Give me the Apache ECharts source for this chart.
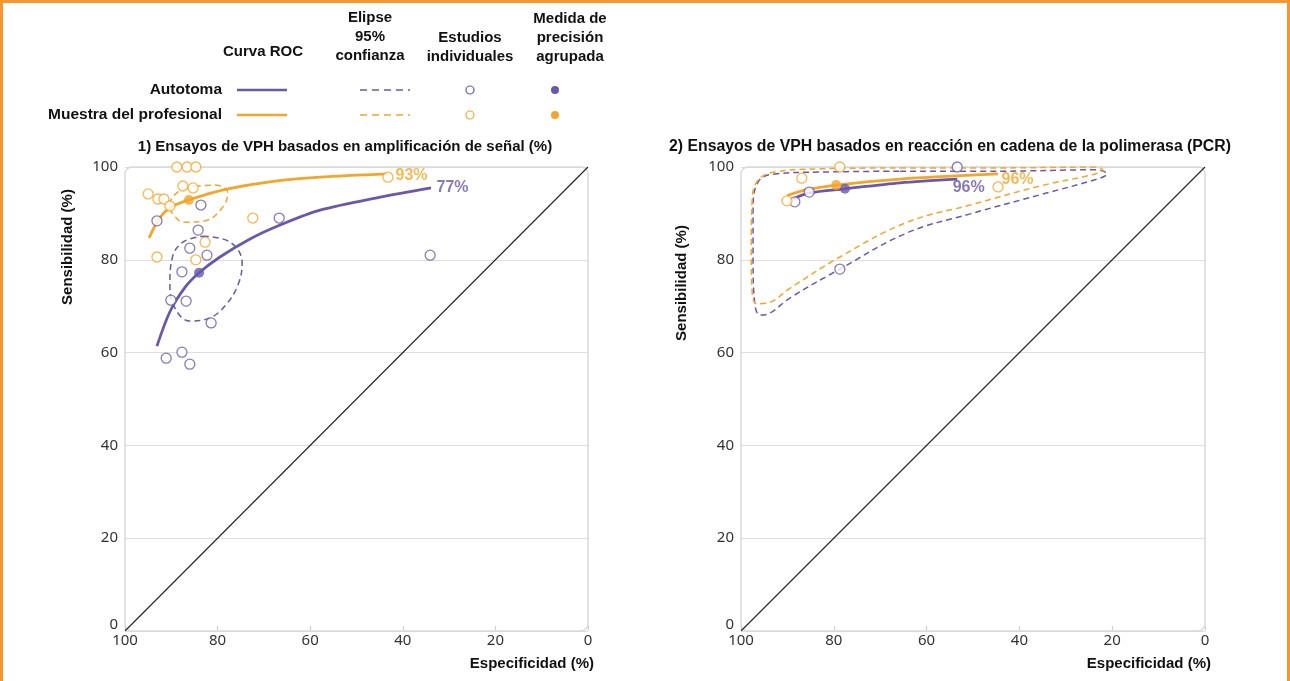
<!DOCTYPE html>
<html><head><meta charset="utf-8">
<script src="https://cdn.jsdelivr.net/npm/echarts@6/dist/echarts.min.js"></script>
<style>html,body{margin:0;padding:0;background:#fff}#c{width:1290px;height:681px}</style>
</head><body><div id="c"></div><script>
// ---------------- data ----------------
const axisMin = 0, axisMax = 100, axisStep = 20;
const legendRows = ['Autotoma', 'Muestra del profesional'];
const legendHeaders = [['Curva ROC'], ['Elipse', '95%', 'confianza'], ['Estudios', 'individuales'], ['Medida de', 'precisión', 'agrupada']];
const panelTitles = ['1) Ensayos de VPH basados en amplificación de señal (%)', '2) Ensayos de VPH basados en reacción en cadena de la polimerasa (PCR)'];
const xName = 'Especificidad (%)';
const yName = 'Sensibilidad (%)';
const diagonal = [[100, 0], [0, 100]];

// Panel 1 — amplificación de señal  [especificidad, sensibilidad]
const p1SelfStudies = [[93.1,88.4],[83.6,91.8],[84.2,86.4],[86.0,82.5],[82.3,81.0],[87.7,77.4],[90.1,71.3],[86.8,71.1],[81.4,66.4],[87.7,60.1],[91.1,58.8],[86.0,57.5],[66.7,89.0],[34.1,81.0]];
const p1ClinStudies = [[88.8,100],[86.6,100],[84.7,100],[87.5,95.9],[85.3,95.5],[95.0,94.2],[92.9,93.1],[91.6,93.1],[90.3,91.6],[72.4,89.0],[82.7,83.8],[84.7,80.0],[93.1,80.6],[43.2,97.8]];
const p1SelfPooled = [[84.0,77.2]];
const p1ClinPooled = [[86.2,92.9]];
const p1SelfRoc = [[93.1,61.4],[90.3,68.8],[87.0,74.1],[84.0,77.2],[79.5,80.6],[73.0,84.5],[66.5,87.5],[57.9,90.7],[44.9,93.5],[33.9,95.5]];
const p1ClinRoc = [[94.8,84.7],[93.1,88.1],[91.4,90.3],[89.2,91.8],[86.2,92.9],[82.7,94.0],[77.8,95.3],[68.7,96.8],[57.9,97.8],[43.2,98.5]];
const p1SelfEllipse = [[83.2,85.1],[77.3,83.8],[74.7,79.3],[75.6,74.6],[78.2,70.3],[81.6,67.5],[86.0,66.8],[89.2,69.6],[90.3,74.6],[89.8,80.4],[87.5,83.8],[83.2,85.1]];
const p1ClinEllipse = [[84.9,95.9],[80.6,96.1],[77.8,94.4],[79.0,91.2],[82.7,88.4],[87.0,88.1],[89.6,89.7],[90.3,91.8],[88.6,94.6],[84.9,95.9]];
const p1Labels = ['77%', '93%'];

// Panel 2 — PCR
const p2SelfStudies = [[88.4,92.5],[85.3,94.6],[53.4,100],[78.7,78.0]];
const p2ClinStudies = [[90.1,92.7],[86.9,97.6],[78.7,100],[44.6,95.7]];
const p2SelfPooled = [[77.6,95.3]];
const p2ClinPooled = [[79.5,96.1]];
const p2SelfRoc = [[88.8,93.1],[85.3,94.4],[77.6,95.3],[65.7,96.6],[53.4,97.4]];
const p2ClinRoc = [[90.1,93.8],[86.2,95.0],[79.5,96.1],[65.7,97.4],[44.6,98.5]];
const p2SelfEllipse = [[65.7,99.1],[44.2,99.1],[23.7,99.4],[21.1,98.5],[22.6,97.6],[35.6,94.0],[50.6,89.9],[64.2,85.8],[78.7,78.0],[89.4,71.8],[93.8,68.5],[95.9,68.1],[97.0,70.3],[97.4,80.0],[97.4,90.7],[96.3,96.8],[92.7,98.5],[83.0,98.9],[65.7,99.1]];
const p2ClinEllipse = [[65.7,99.8],[44.2,99.8],[23.7,100],[22.0,99.4],[23.7,98.5],[35.6,95.9],[50.6,91.8],[64.2,88.1],[78.7,80.6],[89.4,73.9],[94.2,70.7],[96.6,70.5],[97.6,73.1],[97.8,82.1],[97.6,92.9],[96.3,97.2],[92.7,98.9],[83.0,99.6],[65.7,99.8]];
const p2Labels = ['96%', '96%'];

// ---------------- style ----------------
const PURPLE = '#6A58A8';
const GOLD = '#F2A62B';
const FONT = '"Liberation Sans", Arial, sans-serif';
const BOLD = 'bold 15px ' + FONT;
const BOLD_LEG = 'bold 15.5px ' + FONT;
const grids = [
  {left: 125, top: 167, width: 463, height: 464},
  {left: 741, top: 167, width: 464, height: 464}
];
const titleX = [345, 950];
const titleSize = [15, 15.8];

function xAxis(i) {
  return {gridIndex: i, type: 'value', min: axisMin, max: axisMax, interval: axisStep, inverse: true,
    axisLine: {show: false}, splitLine: {show: false},
    axisTick: {show: true, inside: true, length: 5, lineStyle: {color: '#d0d0d0', width: 1.2}},
    axisLabel: {color: '#333', fontSize: 15, fontFamily: '"Noto Sans", sans-serif', margin: 2}};
}
function yAxis(i) {
  return {gridIndex: i, type: 'value', min: axisMin, max: axisMax, interval: axisStep,
    axisLine: {show: false}, axisTick: {show: false},
    splitLine: {show: true, lineStyle: {color: '#dedede', width: 1.2}},
    axisLabel: {color: '#333', fontSize: 15, fontFamily: '"Noto Sans", sans-serif', margin: 7,
      formatter: v => v === 0 ? '{lo|0}' : String(v),
      rich: {lo: {fontSize: 15, color: '#333', fontFamily: '"Noto Sans", sans-serif', padding: [0, 0, 12, 0]}}}};
}
function lineS(i, data, color, width, dashed, z) {
  return {type: 'line', xAxisIndex: i, yAxisIndex: i, data, smooth: dashed ? 0.4 : 0.3, symbol: 'none',
    lineStyle: {color, width, type: dashed ? [6, 4] : 'solid'}, z, silent: true, animation: false};
}
function endLabelS(i, data, color, text, distance, offset) {
  return {type: 'scatter', xAxisIndex: i, yAxisIndex: i, data: [data[data.length - 1]], symbolSize: 1,
    itemStyle: {color: 'rgba(0,0,0,0)'}, z: 7, silent: true, animation: false,
    label: {show: true, formatter: text, position: 'right', distance, offset, color, fontSize: 16, fontWeight: 'bold', fontFamily: FONT}};
}
function studyS(i, data, color) {
  return {type: 'scatter', xAxisIndex: i, yAxisIndex: i, data, symbol: 'circle', symbolSize: 10,
    itemStyle: {color: '#fff', borderColor: color, borderWidth: 1.3}, z: 5, animation: false};
}
function pooledS(i, data, color) {
  return {type: 'scatter', xAxisIndex: i, yAxisIndex: i, data, symbol: 'circle', symbolSize: 10,
    itemStyle: {color}, z: 6, animation: false};
}
function panel(i, d) {
  return [
    lineS(i, diagonal, '#222', 1.1, false, 2),
    lineS(i, d.selfEl, PURPLE, 1.5, true, 3),
    lineS(i, d.clinEl, GOLD, 1.5, true, 3),
    lineS(i, d.selfRoc, PURPLE, 2.8, false, 4),
    lineS(i, d.clinRoc, GOLD, 2.8, false, 4),
    studyS(i, d.selfSt, PURPLE),
    studyS(i, d.clinSt, GOLD),
    pooledS(i, d.selfP, PURPLE),
    pooledS(i, d.clinP, GOLD),
    endLabelS(i, d.selfRoc, PURPLE, d.labels[0], d.selfLab[0], d.selfLab[1]),
    endLabelS(i, d.clinRoc, GOLD, d.labels[1], d.clinLab[0], d.clinLab[1])
  ];
}

const series = [].concat(
  panel(0, {selfEl: p1SelfEllipse, clinEl: p1ClinEllipse, selfRoc: p1SelfRoc, clinRoc: p1ClinRoc,
    selfSt: p1SelfStudies, clinSt: p1ClinStudies, selfP: p1SelfPooled, clinP: p1ClinPooled,
    labels: p1Labels, selfLab: [5, [0, 0]], clinLab: [7, [0, 2]]}),
  panel(1, {selfEl: p2SelfEllipse, clinEl: p2ClinEllipse, selfRoc: p2SelfRoc, clinRoc: p2ClinRoc,
    selfSt: p2SelfStudies, clinSt: p2ClinStudies, selfP: p2SelfPooled, clinP: p2ClinPooled,
    labels: p2Labels, selfLab: [5, [-10, 9]], clinLab: [3, [0, 6]]})
);

// ---------------- graphics (frame, legend table, titles) ----------------
const graphic = [];
graphic.push({type: 'rect', shape: {x: 1.5, y: 1.5, width: 1287, height: 720}, style: {fill: 'none', stroke: '#F7962F', lineWidth: 3}, silent: true});
grids.forEach((g, i) => {
  graphic.push({type: 'rect', shape: {x: g.left, y: g.top, width: g.width, height: g.height, r: 7},
    style: {fill: 'none', stroke: '#d9d9d9', lineWidth: 1.5}, z: 1, silent: true});
  graphic.push({type: 'text', x: titleX[i], y: 147, style: {text: panelTitles[i], font: 'bold ' + titleSize[i] + 'px ' + FONT, fill: '#111', textAlign: 'center', textVerticalAlign: 'middle'}});
  graphic.push({type: 'text', x: g.left + g.width + 6, y: 664, style: {text: xName, font: BOLD, fill: '#111', textAlign: 'right', textVerticalAlign: 'middle'}});
});
graphic.push({type: 'text', x: 68, y: 247, rotation: Math.PI / 2, style: {text: yName, font: BOLD, fill: '#111', textAlign: 'center', textVerticalAlign: 'middle'}});
graphic.push({type: 'text', x: 682, y: 283, rotation: Math.PI / 2, style: {text: yName, font: BOLD, fill: '#111', textAlign: 'center', textVerticalAlign: 'middle'}});

// legend header
const headerX = [263, 370, 470, 570];
const headerBottom = [52, 56, 57, 57];
const lineY = 19;
legendHeaders.forEach((lines, k) => {
  lines.forEach((t, j) => {
    graphic.push({type: 'text', x: headerX[k], y: headerBottom[k] - (lines.length - 1 - j) * lineY,
      style: {text: t, font: BOLD, fill: '#111', textAlign: 'center', textVerticalAlign: 'middle'}});
  });
});
const rowY = [90, 115];
const rowColors = [PURPLE, GOLD];
legendRows.forEach((t, r) => {
  const y = rowY[r], c = rowColors[r];
  graphic.push({type: 'text', x: 222, y, style: {text: t, font: BOLD_LEG, fill: '#111', textAlign: 'right', textVerticalAlign: 'middle'}});
  graphic.push({type: 'line', shape: {x1: 237, y1: y, x2: 287, y2: y}, style: {stroke: c, lineWidth: 2.5}});
  graphic.push({type: 'line', shape: {x1: 360, y1: y, x2: 410, y2: y}, style: {stroke: c, lineWidth: 1.4, lineDash: [7, 5]}});
  graphic.push({type: 'circle', shape: {cx: 470, cy: y, r: 4}, style: {fill: '#fff', stroke: c, lineWidth: 1.2}});
  graphic.push({type: 'circle', shape: {cx: 555, cy: y, r: 4}, style: {fill: c}});
});

const chart = echarts.init(document.getElementById('c'), null, {renderer: 'canvas'});
chart.setOption({
  animation: false,
  backgroundColor: '#fff',
  grid: grids,
  xAxis: [xAxis(0), xAxis(1)],
  yAxis: [yAxis(0), yAxis(1)],
  series,
  graphic
});
</script></body></html>
